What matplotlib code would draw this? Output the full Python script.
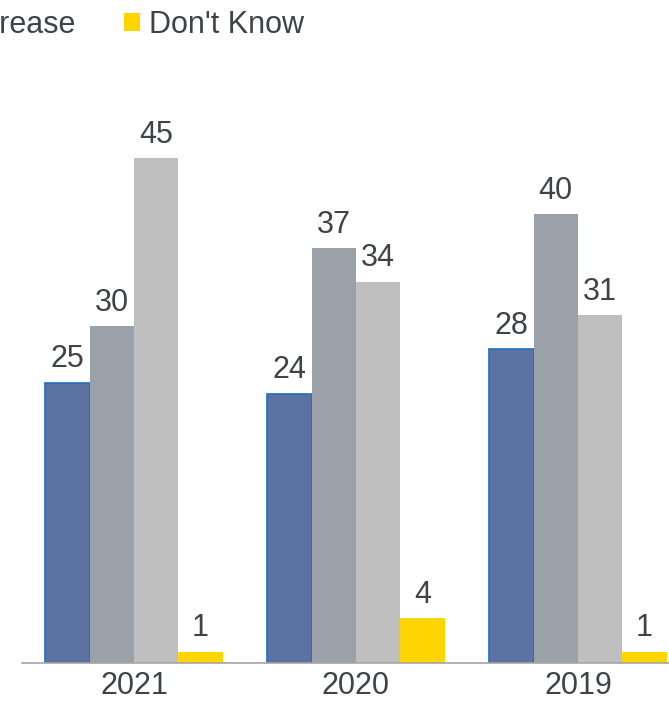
import matplotlib.pyplot as plt
import numpy as np
from matplotlib.patches import Patch

plt.rcParams['font.family'] = ['Liberation Sans', 'DejaVu Sans']

# data
years = ['2021', '2020', '2019']
series = ['Increase', 'Stay the same', 'Decrease', "Don't Know"]
increase = [25, 24, 28]
same = [30, 37, 40]
decrease = [45, 34, 31]
dont_know = [1, 4, 1]

colors = ['#5B72A3', '#9AA1A8', '#BFBFBF', '#FFD500']
text_color = '#3D4449'
fs = 22

fig = plt.figure(figsize=(6.69, 7.12), dpi=100)
ax = fig.add_axes([22 / 669, 49 / 712, 1 - 22 / 669, 561 / 712])

x = np.arange(len(years))
width = 0.2
values = [increase, same, decrease, dont_know]
for i, (vals, col) in enumerate(zip(values, colors)):
    pos = x + (i - 1.5) * width
    edge = '#1F6FBF' if i == 0 else col
    bars = ax.bar(pos, vals, width, color=col, edgecolor=edge, linewidth=1.2 if i == 0 else 0)
    for b, v in zip(bars, vals):
        ax.annotate(str(v), (b.get_x() + b.get_width() / 2, b.get_height()),
                    xytext=(0, 6), textcoords='offset points',
                    ha='center', va='bottom', fontsize=fs, color=text_color)

ax.set_xlim(-0.5045, 2.41)
ax.set_ylim(0, 50)
ax.set_xticks(x)
ax.set_xticklabels(years, fontsize=fs, color=text_color)
ax.tick_params(axis='x', length=0, pad=6)
ax.set_yticks([])
for s in ['top', 'right', 'left']:
    ax.spines[s].set_visible(False)
ax.spines['bottom'].set_color('#A6A6A6')
ax.spines['bottom'].set_linewidth(1.2)

handles = [Patch(facecolor=c, edgecolor='none') for c in colors]
leg = fig.legend(handles, series, loc='upper right', bbox_to_anchor=(316 / 669, 1 + 2 / 712),
                 ncol=4, frameon=False, fontsize=fs, handlelength=0.52, handleheight=0.52,
                 handletextpad=0.3, columnspacing=1.55, borderaxespad=0)
for t in leg.get_texts():
    t.set_color(text_color)

fig.savefig('out.png', dpi=100)
